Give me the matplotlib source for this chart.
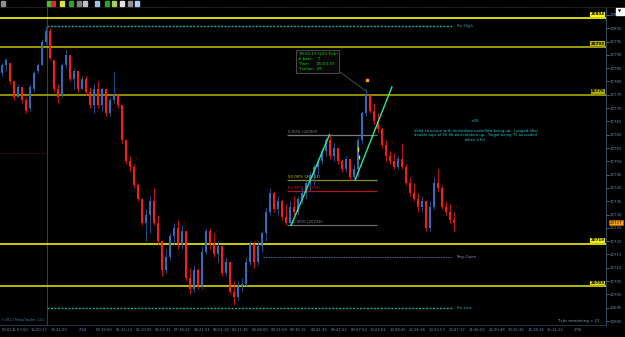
import numpy as np
import matplotlib
matplotlib.use("Agg")
import matplotlib.pyplot as plt
from matplotlib.lines import Line2D
from matplotlib.patches import Rectangle

# YM 03-17 (233 Tick) bars
opens = [20783, 20786, 20787, 20780, 20774, 20778, 20773, 20770, 20777, 20784,
         20786, 20795, 20799, 20788, 20777, 20775, 20786, 20790, 20781, 20784,
         20777, 20781, 20776, 20771, 20777, 20771, 20777, 20768, 20773, 20775,
         20771, 20758, 20750, 20748, 20741, 20736, 20727, 20730, 20735, 20727,
         20720, 20709, 20714, 20722, 20725, 20719, 20724, 20706, 20702, 20709,
         20703, 20716, 20724, 20719, 20715, 20718, 20708, 20712, 20701, 20699,
         20703, 20704, 20712, 20719, 20712, 20718, 20723, 20731, 20738, 20732,
         20735, 20729, 20727, 20733, 20731, 20736, 20738, 20742, 20745, 20748,
         20750, 20754, 20758, 20752, 20755, 20750, 20747, 20751, 20744, 20747,
         20758, 20768, 20775, 20769, 20765, 20762, 20756, 20752, 20750, 20748,
         20751, 20748, 20742, 20738, 20736, 20733, 20735, 20725, 20733, 20742,
         20740, 20733, 20731, 20728]
highs = [20787, 20789, 20787, 20780, 20779, 20778, 20774, 20779, 20784, 20787,
         20796, 20801, 20800, 20788, 20779, 20787, 20792, 20790, 20785, 20784,
         20782, 20782, 20778, 20779, 20780, 20778, 20777, 20774, 20784, 20775,
         20771, 20758, 20752, 20749, 20742, 20736, 20732, 20737, 20740, 20730,
         20720, 20717, 20723, 20727, 20728, 20726, 20724, 20710, 20711, 20710,
         20718, 20725, 20725, 20723, 20720, 20718, 20714, 20712, 20705, 20705,
         20706, 20714, 20720, 20720, 20720, 20724, 20733, 20740, 20739, 20737,
         20736, 20734, 20735, 20737, 20737, 20740, 20743, 20746, 20749, 20751,
         20755, 20759, 20760, 20757, 20755, 20751, 20752, 20751, 20749, 20759,
         20769, 20777, 20775, 20772, 20768, 20763, 20758, 20754, 20753, 20752,
         20757, 20749, 20744, 20742, 20738, 20737, 20735, 20735, 20744, 20747,
         20741, 20735, 20734, 20731]
lows = [20782, 20784, 20779, 20773, 20774, 20772, 20768, 20769, 20776, 20783,
        20786, 20794, 20788, 20776, 20772, 20774, 20785, 20780, 20777, 20776,
        20777, 20775, 20770, 20768, 20770, 20769, 20767, 20767, 20772, 20770,
        20757, 20749, 20746, 20740, 20735, 20726, 20720, 20723, 20726, 20719,
        20707, 20708, 20713, 20719, 20717, 20717, 20705, 20700, 20701, 20702,
        20702, 20715, 20717, 20714, 20712, 20707, 20707, 20700, 20696, 20698,
        20701, 20703, 20711, 20710, 20711, 20716, 20720, 20730, 20731, 20730,
        20728, 20726, 20726, 20730, 20730, 20734, 20736, 20739, 20741, 20745,
        20749, 20752, 20751, 20750, 20749, 20746, 20746, 20743, 20743, 20744,
        20757, 20767, 20768, 20764, 20761, 20755, 20750, 20749, 20747, 20747,
        20747, 20741, 20737, 20735, 20731, 20731, 20724, 20724, 20732, 20739,
        20732, 20730, 20727, 20724]
closes = [20786, 20788, 20780, 20774, 20778, 20773, 20769, 20778, 20783, 20786,
          20795, 20799, 20789, 20777, 20774, 20786, 20790, 20781, 20784, 20777,
          20781, 20776, 20771, 20777, 20771, 20777, 20768, 20773, 20775, 20771,
          20758, 20750, 20748, 20741, 20736, 20727, 20730, 20735, 20727, 20720,
          20709, 20714, 20722, 20725, 20719, 20724, 20706, 20702, 20709, 20703,
          20716, 20724, 20719, 20715, 20718, 20708, 20712, 20701, 20699, 20703,
          20704, 20712, 20719, 20712, 20718, 20723, 20731, 20738, 20732, 20735,
          20729, 20727, 20733, 20731, 20736, 20738, 20742, 20745, 20748, 20750,
          20754, 20758, 20752, 20755, 20750, 20747, 20751, 20744, 20747, 20758,
          20768, 20775, 20769, 20765, 20762, 20756, 20752, 20750, 20748, 20751,
          20748, 20742, 20738, 20736, 20733, 20735, 20725, 20733, 20742, 20740,
          20733, 20731, 20728, 20727]

# horizontal levels
level_prices = [20804, 20793, 20775, 20719, 20703]
level_labels = ["20804", "20793", "20775", "20719", "20703"]
level_colors = ["#ffff00", "#b4b400", "#a8a800", "#f2f200", "#d6d600"]

session_break = 11.4
pre_high = 20801
pre_low = 20695
reg_open = 20714
reg_open_start = 65.4
lines_end = 112.6
prev_level = 20753

# fib retracement
fib_start, fib_end = 71.4, 93.9
fib_prices = [20760, 20743, 20739, 20726]
fib_labels = ["0.00% (20760)", "50.00% (20743)", "61.80% (20739)", "100.00% (20726)"]
fib_colors = ["#7a7a7a", "#8c8c2c", "#b01414", "#6e6e6e"]
fib_text_colors = ["#8a8a8a", "#c8c040", "#d02020", "#8a8a8a"]

# trend lines (bar index, price)
trend1_x, trend1_y = [72.4, 82.0], [20726, 20760]
trend2_x, trend2_y = [88.4, 97.6], [20743, 20778]

time_pos = [0.0, 4.6, 9.4, 14.4, 20.4, 25.6, 30.6, 35.6, 40.4, 45.1, 50.1, 54.9,
            59.6, 64.6, 69.4, 74.1, 79.4, 84.4, 89.4, 94.1, 99.1, 103.9, 108.9,
            113.9, 118.9, 123.9, 128.6, 133.6, 138.4, 144.1]
time_labels = ["00:01", "15:53:50", "16:00:17", "19:21:03", "2/24", "03:39:00",
               "05:32:13", "06:10:05", "06:53:31", "07:38:32", "08:21:01", "08:51:18",
               "09:11:36", "09:28:00", "09:31:58", "09:36:15", "09:41:39", "09:47:22",
               "09:57:50", "10:04:01", "10:08:45", "10:16:18", "10:22:53", "10:47:12",
               "11:46:00", "12:20:48", "13:25:36", "14:18:24", "15:11:12", "2/26"]

note = ("Valid structure with immediate orderflow being up.  Longed after\n"
        "double taps of 50 fib and rotation up.  Target being 75 as traded\n"
        "when 2 hit.")

axis_col = "#6b8cae"
fs = 2.9

fig = plt.figure(figsize=(6.25, 3.37), dpi=100, facecolor="black")
ax = fig.add_axes([0, 12 / 337, 606 / 625, 317 / 337])
ax.set_facecolor("black")
ax.set_xlim(-0.375, 151.1)
ax.set_ylim(20688.5, 20807.6)

# levels
for p, lab, c in zip(level_prices, level_labels, level_colors):
    ax.axhline(p, color=c, lw=1.2, zorder=2)
    ax.text(0.998, p + 0.5, lab, transform=ax.get_yaxis_transform(), ha="right", va="bottom",
            fontsize=fs, color="black", fontweight="bold",
            bbox=dict(boxstyle="square,pad=0.1", fc=c, ec="none"), zorder=6)

ax.axvline(session_break, color="#3a3a3a", lw=0.8, zorder=1)
ax.hlines(prev_level, -0.375, session_break, colors="#6a1010", lw=0.7, linestyles=(0, (1.5, 1.5)))
ax.hlines([pre_high, pre_low], session_break, lines_end, colors="#1aa6a6", lw=1.0,
          linestyles=(0, (1.5, 1.0)), zorder=2)
ax.hlines(reg_open, reg_open_start, lines_end, colors="#4a6a80", lw=0.7,
          linestyles=(0, (1.5, 1.0)), zorder=2)
ax.text(lines_end + 1.2, pre_high, "Pre-High", color="#1aa6a6", fontsize=fs, va="center")
ax.text(lines_end + 1.2, pre_low, "Pre-Low", color="#1aa6a6", fontsize=fs, va="center")
ax.text(lines_end + 1.2, reg_open, "Reg-Open", color="#7a95ad", fontsize=fs, va="center")

# fib
for p, lab, c, tc in zip(fib_prices, fib_labels, fib_colors, fib_text_colors):
    ax.hlines(p, fib_start, fib_end, colors=c, lw=0.9, zorder=2)
    ax.text(fib_start + 0.2, p + 0.4, lab, color=tc, fontsize=fs, va="bottom", zorder=3)

# bars
x = np.arange(len(closes))
o = np.array(opens)
c = np.array(closes)
up = c >= o
wick_cols = np.where(up, "#1e4f8c", "#d01010")
body_cols = np.where(up, "#2e6cbc", "#ff1a1a")
ax.vlines(x, lows, highs, colors=wick_cols, lw=0.7, zorder=3)
ax.bar(x, np.maximum(np.abs(c - o), 0.4), bottom=np.minimum(o, c), width=0.5,
       color=body_cols, zorder=4)

# trend lines
ax.plot(trend1_x, trend1_y, color="#2ee890", lw=1.0, zorder=5)
ax.plot(trend2_x, trend2_y, color="#2ee890", lw=1.0, zorder=5)

# markers
ax.scatter([91.4], [20780.5], marker="s", s=4, color="#ff9a00", zorder=6)
ax.scatter([89.0, 89.4], [20754.5, 20751.5], marker="|", s=8, color="#d0f000", lw=1.0, zorder=6)

# ruler annotation box
ax.plot([84.6, 91.0], [20783.6, 20776.5], color="#555555", lw=0.6, zorder=5)
ax.text(74.0, 20791.0, "YM 03-17 (233 Tick)\n# bars:    7\nTime:      00:03:37\nY value:  29",
        color="#10e010", fontsize=fs, va="top", ha="left", linespacing=1.35,
        bbox=dict(boxstyle="square,pad=0.5", fc="#080808", ec="#555555", lw=0.6), zorder=6)

# note text
ax.text(118.3, 20765.2, "+20", color="#20c8d0", fontsize=fs, ha="center", va="center")
ax.text(118.5, 20762.3, note, color="#20c8d0", fontsize=fs - 0.2, ha="center", va="top",
        linespacing=1.2)

# axes styling
ax.yaxis.tick_right()
ax.set_yticks(np.arange(20690, 20806, 5))
ax.tick_params(axis="y", colors=axis_col, labelsize=fs, length=2, pad=0.8, width=0.5)
ax.set_xticks(time_pos)
ax.set_xticklabels(time_labels)
ax.tick_params(axis="x", colors=axis_col, labelsize=fs - 0.2, length=0, pad=2)
ax.get_xticklabels()[0].set_ha("left")
for s in ["top", "left"]:
    ax.spines[s].set_visible(False)
ax.spines["right"].set_color("#3c5670")
ax.spines["bottom"].set_color("#2a4a6a")
ax.spines["right"].set_linewidth(0.6)
ax.spines["bottom"].set_linewidth(0.5)

# last price tag
ax.annotate(str(closes[-1]), xy=(1.0, closes[-1]), xycoords=("axes fraction", "data"),
            xytext=(1.006, closes[-1]), textcoords=("axes fraction", "data"),
            fontsize=fs, color="black", va="center", ha="left", annotation_clip=False,
            bbox=dict(boxstyle="square,pad=0.15", fc="#ffa500", ec="#c07000", lw=0.4))

# toolbar and footer
fig.add_artist(Line2D([0, 1], [1 - 7 / 337] * 2, color="#444444", lw=0.6, ls=(0, (1, 1))))
icons = [(1, "#909090"), (47, "#40c040"), (51, "#d03030"), (60, "#e0e040"), (69, "#30a030"),
         (77, "#808080"), (83, "#c0c0c0"), (95, "#a0c0e0"), (105, "#30a030"), (112, "#a0d060"),
         (120, "#e0e0e0"), (128, "#909090"), (135, "#b0c8f0")]
for px, col in icons:
    fig.add_artist(Rectangle((px / 625, 1 - 6 / 337), 4 / 625, 5 / 337, color=col,
                             transform=fig.transFigure))
fig.add_artist(Rectangle((616 / 625, 1 - 15 / 337), 8 / 625, 7 / 337, color="white",
                         transform=fig.transFigure))
fig.text(620 / 625, 1 - 11.5 / 337, "\u25bc", fontsize=3, color="black", ha="center", va="center")
fig.text(1 / 625, 1 - 320 / 337, "\u00a92017 NinjaTrader, LLC", fontsize=fs - 0.3,
         color="#4a78b0", va="center")
fig.text(557 / 625, 1 - 321 / 337, "Ticks remaining = 21", fontsize=fs, color="#8a9aaa",
         va="center")

fig.savefig("out.png", dpi=100, facecolor="black")
